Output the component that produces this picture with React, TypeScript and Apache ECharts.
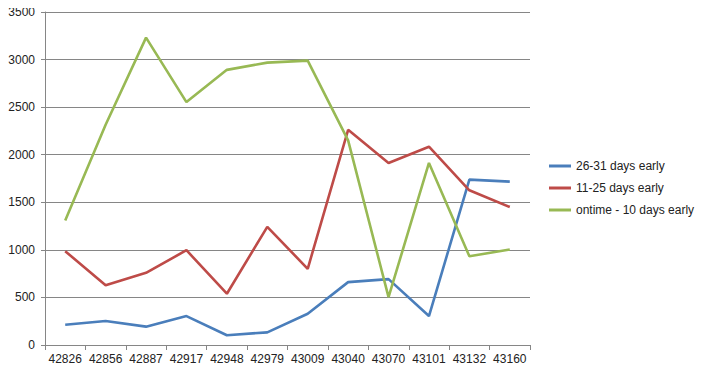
import React, { useEffect, useRef } from "react";
import * as echarts from "echarts";

const categories = ["42826", "42856", "42887", "42917", "42948", "42979", "43009", "43040", "43070", "43101", "43132", "43160"];
const early26to31 = [212, 252, 193, 304, 102, 133, 329, 661, 692, 304, 1738, 1717];
const early11to25 = [986, 629, 759, 996, 539, 1242, 801, 2262, 1913, 2084, 1626, 1451];
const ontime10 = [1308, 2315, 3231, 2553, 2892, 2968, 2989, 2150, 503, 1913, 933, 1004];
const seriesNames = ["26-31 days early", "11-25 days early", "ontime - 10 days early"];

export default function App() {
  const ref = useRef<HTMLDivElement>(null);
  useEffect(() => {
    if (!ref.current) return;
    const chart = echarts.init(ref.current, null, { renderer: "svg" });
    const font = "'Liberation Sans', Arial, sans-serif";
    const mk = (name: string, data: number[], color: string) => ({
      name,
      type: "line",
      data,
      symbol: "none",
      lineStyle: { color, width: 2.6 },
      itemStyle: { color },
    });
    chart.setOption({
      animation: false,
      backgroundColor: "#ffffff",
      grid: { left: 45, right: 175, top: 12, bottom: 26 },
      legend: {
        orient: "vertical",
        left: 549,
        top: 160,
        padding: 0,
        itemWidth: 22,
        itemHeight: 3,
        itemGap: 10,
        icon: "rect",
        textStyle: { fontFamily: font, fontSize: 12, color: "#222" },
        data: seriesNames,
      },
      xAxis: {
        type: "category",
        data: categories,
        boundaryGap: true,
        axisLine: { lineStyle: { color: "#868686" } },
        axisTick: { show: true, length: 5, lineStyle: { color: "#868686" } },
        axisLabel: { fontFamily: font, fontSize: 12, color: "#222", margin: 8, interval: 0 },
      },
      yAxis: {
        type: "value",
        min: 0,
        max: 3500,
        interval: 500,
        axisLine: { show: true, lineStyle: { color: "#868686" } },
        axisTick: { show: true, length: 4, lineStyle: { color: "#868686" } },
        splitLine: { lineStyle: { color: "#868686", width: 1 } },
        axisLabel: {
          fontFamily: font,
          fontSize: 12,
          color: "#222",
          margin: 10,
          formatter: (v: number) => String(v),
        },
      },
      series: [
        mk(seriesNames[0], early26to31, "#4a7ebb"),
        mk(seriesNames[1], early11to25, "#be4b48"),
        mk(seriesNames[2], ontime10, "#98b954"),
      ],
    });
    return () => chart.dispose();
  }, []);
  return <div ref={ref} style={{ width: 705, height: 371, margin: -8 }} />;
}
